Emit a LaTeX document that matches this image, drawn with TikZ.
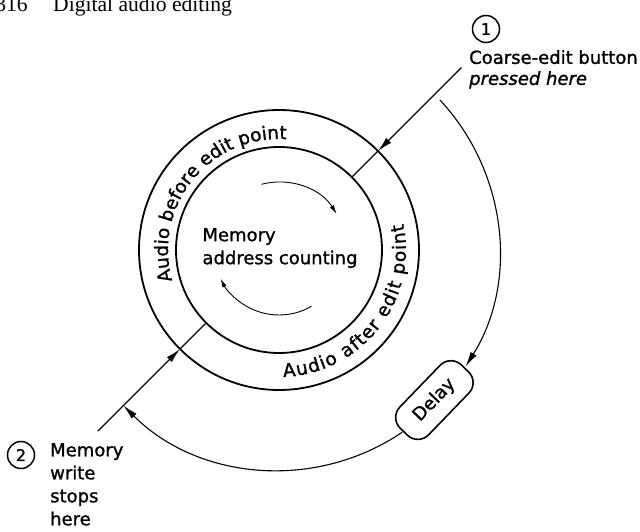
\documentclass[tikz,border=0pt]{standalone}
\usepackage{fontspec}
\setmainfont{DejaVu Sans}[ItalicFont={DejaVu Sans Oblique}, FakeBold=1.2]
\newfontfamily\hdrfont{Liberation Serif}
\usetikzlibrary{arrows.meta,calc,decorations.text}
\tikzset{
  x=1pt, y=1pt,
  lbl/.style={font=\fontsize{18}{21}\selectfont, inner sep=0pt},
  ring/.style={circle, draw, line width=1.8pt, inner sep=0pt, outer sep=0pt},
  radial/.style={line width=1.4pt},
  bigtip/.style={-{Latex[length=15pt,width=7pt]}},
  bigarc/.style={line width=1.1pt},
  smallarc/.style={line width=0.9pt, -{Latex[length=9pt,width=4.5pt]}},
  numcirc/.style={circle, draw, line width=1.5pt, minimum size=27pt, inner sep=0pt, font=\fontsize{16}{16}\selectfont},
  delaybox/.style={draw, line width=1.6pt, rounded corners=15pt, minimum width=88pt, minimum height=40pt, inner sep=0pt, font=\fontsize{18}{18}\selectfont},
}
\begin{document}
\begin{tikzpicture}
\useasboundingbox (0,0) rectangle (640,531);
% header
\node[anchor=base east, inner sep=0pt, font=\hdrfont\fontsize{21.6}{22}\selectfont] (pg) at (28,519) {316};
\node[anchor=base west, inner sep=0pt, font=\hdrfont\fontsize{21.6}{22}\selectfont] (hdr) at (53,519) {Digital audio editing};

\coordinate (C) at (279,281);
\node[ring, minimum size=280pt] (outer) at (C) {};
\node[ring, minimum size=206pt] (inner) at (C) {};

% ring texts
\path[decorate, decoration={text along path, text align={fit to path},
  text={|\fontsize{18.5}{18}\selectfont|Audio before edit point}}]
  ($(C)+(196:111)$) arc[start angle=196, end angle=87, radius=111];
\path[decorate, decoration={text along path, text align={fit to path},
  text={|\fontsize{18.5}{18}\selectfont|Audio after edit point}}]
  ($(C)+(-88:127)$) arc[start angle=-88, end angle=12, radius=127];

% centre text
\node[lbl, align=left, font=\fontsize{18}{23}\selectfont] (mem) at (280,283) {Memory\\address counting};
\draw[smallarc] ($(C)+(105:68)$) arc[start angle=105, end angle=32, radius=68];
\draw[smallarc] ($(C)+(-60:65)$) arc[start angle=-60, end angle=-154, radius=65];

% radial lines
\coordinate (e1) at ($(C)+(45:258)$);
\coordinate (e2) at ($(C)+(225:256)$);
\draw[radial, bigtip] (e1) -- (outer.45);
\draw[radial] (outer.45) -- (inner.45);
\draw[radial, bigtip] (e2) -- (outer.225);
\draw[radial] (outer.225) -- (inner.225);

% delay
\node[delaybox, rotate=46] (delay) at ($(C)+(-44:216)$) {Delay};
\coordinate (a1) at ($(C)+(43:220)$);
\coordinate (a2) at ($(C)+(-56:220)$);
\draw[bigarc, bigtip] (a1) arc[start angle=43, end angle=-32, radius=220];
\draw[bigarc, bigtip] (a2) arc[start angle=-56, end angle=-135, radius=220];

% labels
\node[numcirc] (n1) at (486,502) {1};
\node[lbl, anchor=north west, align=left] (lab1) at (469,481) {Coarse-edit button\\\itshape pressed here};
\node[numcirc] (n2) at (21,76) {2};
\node[lbl, anchor=north west, align=left, font=\fontsize{18}{23}\selectfont] (lab2) at (50,88) {Memory\\write\\stops\\here};
\end{tikzpicture}
\end{document}
